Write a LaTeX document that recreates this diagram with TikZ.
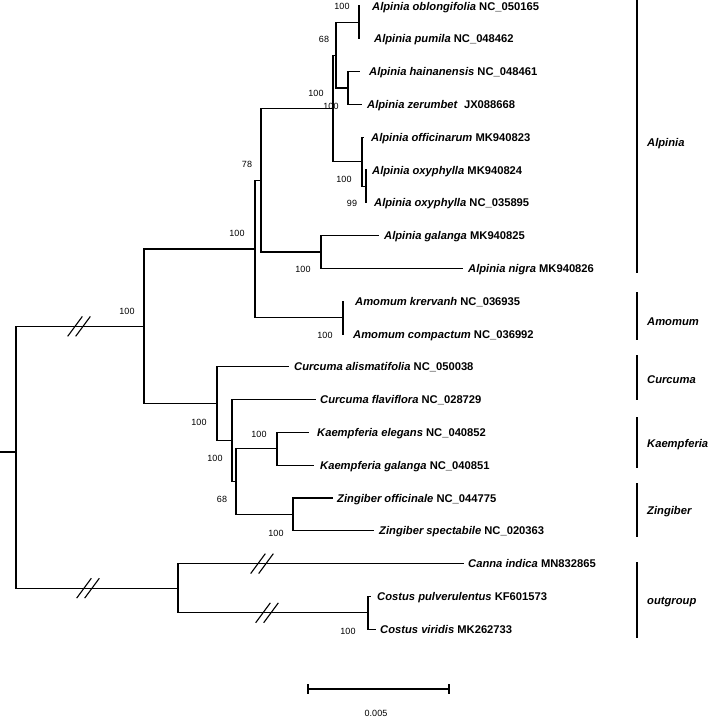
\documentclass[tikz,border=0pt]{standalone}
\usepackage{fontspec}
\setmainfont{Liberation Sans}
\begin{document}
\begin{tikzpicture}[x=1pt,y=-1pt,
  br/.style={line width=1.1pt, line cap=rect},
  tiplab/.style={anchor=base west, inner sep=0pt, font=\fontsize{11.2}{13}\selectfont\bfseries, yshift=-4pt},
  boot/.style={inner sep=0pt, font=\fontsize{9}{10}\selectfont},
  cladebar/.style={line width=1.3pt},
  cladelab/.style={anchor=base west, inner sep=0pt, font=\fontsize{11.2}{13}\selectfont\bfseries\itshape, yshift=-4pt},
  scalelab/.style={inner sep=0pt, font=\fontsize{9}{10}\selectfont}]
\useasboundingbox (0,0) rectangle (709,718);
\newcommand\spn[1]{\textit{#1}}
\newcommand\brkmark[2]{%
  \draw[br] ({#1-11},{#2+9.5}) -- ({#1+3},{#2-9.5});
  \draw[br] ({#1-3},{#2+9.5}) -- ({#1+11},{#2-9.5});}

% tips
\coordinate (t1) at (359,6);
\coordinate (t2) at (359,38.8);
\coordinate (t3) at (359,71.6);
\coordinate (t4) at (361,104.4);
\coordinate (t5) at (363,137.2);
\coordinate (t6) at (366,170);
\coordinate (t7) at (366,202.8);
\coordinate (t8) at (378,235.6);
\coordinate (t9) at (462,268.4);
\coordinate (t10) at (343,301.2);
\coordinate (t11) at (343,334);
\coordinate (t12) at (288,366.8);
\coordinate (t13) at (315,399.6);
\coordinate (t14) at (308,432.4);
\coordinate (t15) at (313,465.2);
\coordinate (t16) at (332,498);
\coordinate (t17) at (373,530.8);
\coordinate (t18) at (463,563.6);
\coordinate (t19) at (370,596.4);
\coordinate (t20) at (375,629.2);

% tip labels
\node[tiplab] (l1) at (372,6) {\spn{Alpinia oblongifolia} NC\_050165};
\node[tiplab] (l2) at (374,38.8) {\spn{Alpinia pumila} NC\_048462};
\node[tiplab] (l3) at (369,71.6) {\spn{Alpinia hainanensis} NC\_048461};
\node[tiplab] (l4) at (367,104.4) {\spn{Alpinia zerumbet}\ \ JX088668};
\node[tiplab] (l5) at (371,137.2) {\spn{Alpinia officinarum} MK940823};
\node[tiplab] (l6) at (372,170) {\spn{Alpinia oxyphylla} MK940824};
\node[tiplab] (l7) at (374,202.8) {\spn{Alpinia oxyphylla} NC\_035895};
\node[tiplab] (l8) at (384,235.6) {\spn{Alpinia galanga} MK940825};
\node[tiplab] (l9) at (468,268.4) {\spn{Alpinia nigra} MK940826};
\node[tiplab] (l10) at (355,301.2) {\spn{Amomum krervanh} NC\_036935};
\node[tiplab] (l11) at (353,334) {\spn{Amomum compactum} NC\_036992};
\node[tiplab] (l12) at (294,366.8) {\spn{Curcuma alismatifolia} NC\_050038};
\node[tiplab] (l13) at (320,399.6) {\spn{Curcuma flaviflora} NC\_028729};
\node[tiplab] (l14) at (317,432.4) {\spn{Kaempferia elegans} NC\_040852};
\node[tiplab] (l15) at (320,465.2) {\spn{Kaempferia galanga} NC\_040851};
\node[tiplab] (l16) at (337,498) {\spn{Zingiber officinale} NC\_044775};
\node[tiplab] (l17) at (379,530.8) {\spn{Zingiber spectabile} NC\_020363};
\node[tiplab] (l18) at (468,563.6) {\spn{Canna indica} MN832865};
\node[tiplab] (l19) at (377,596.4) {\spn{Costus pulverulentus} KF601573};
\node[tiplab] (l20) at (380,629.2) {\spn{Costus viridis} MK262733};

% internal nodes
\coordinate (nA1) at (359,22.4);
\coordinate (nA2) at (348,88);
\coordinate (nA3) at (336,55.2);
\coordinate (nA4) at (366,186.4);
\coordinate (nA5) at (362,161.8);
\coordinate (nA6) at (333,108.5);
\coordinate (nA7) at (321,252);
\coordinate (nA8) at (261,180.3);
\coordinate (nAm) at (343,317.6);
\coordinate (nZ1) at (255,249);
\coordinate (nK) at (277,448.8);
\coordinate (nZi) at (293,514.4);
\coordinate (nKZ) at (236,481.6);
\coordinate (nCKZ) at (232,440.6);
\coordinate (nCur) at (217,403.7);
\coordinate (nIng) at (144,326.4);
\coordinate (nCos) at (368,612.8);
\coordinate (nOut) at (178,588.2);
\coordinate (root) at (16,452);
\coordinate (rstub) at (0,452);

% branches
\draw[br] (nA1) |- (t1); \draw[br] (nA1) |- (t2);
\draw[br] (nA2) |- (t3); \draw[br] (nA2) |- (t4);
\draw[br] (nA3) |- (nA1); \draw[br] (nA3) |- (nA2);
\draw[br] (nA4) |- (t6); \draw[br] (nA4) |- (t7);
\draw[br] (nA5) |- (t5); \draw[br] (nA5) |- (nA4);
\draw[br] (nA6) |- (nA3); \draw[br] (nA6) |- (nA5);
\draw[br] (nA7) |- (t8); \draw[br] (nA7) |- (t9);
\draw[br] (nA8) |- (nA6); \draw[br] (nA8) |- (nA7);
\draw[br] (nAm) |- (t10); \draw[br] (nAm) |- (t11);
\draw[br] (nZ1) |- (nA8); \draw[br] (nZ1) |- (nAm);
\draw[br] (nK) |- (t14); \draw[br] (nK) |- (t15);
\draw[br] (nZi) |- (t16); \draw[br] (nZi) |- (t17);
\draw[br] (nKZ) |- (nK); \draw[br] (nKZ) |- (nZi);
\draw[br] (nCKZ) |- (t13); \draw[br] (nCKZ) |- (nKZ);
\draw[br] (nCur) |- (t12); \draw[br] (nCur) |- (nCKZ);
\draw[br] (nIng) |- (nZ1); \draw[br] (nIng) |- (nCur);
\draw[br] (nCos) |- (t19); \draw[br] (nCos) |- (t20);
\draw[br] (nOut) |- (t18); \draw[br] (nOut) |- (nCos);
\draw[br] (root) |- (nIng); \draw[br] (root) |- (nOut);
\draw[br] (rstub) -- (root);

% break marks
\brkmark{79}{326.4}
\brkmark{88}{588.2}
\brkmark{262}{563.6}
\brkmark{267}{612.8}

% bootstrap values
\node[boot] (b1) at (342,6) {100};
\node[boot] (b2) at (324,39) {68};
\node[boot] (b3) at (331,106) {100};
\node[boot] (b4) at (316,93) {100};
\node[boot] (b5) at (344,179) {100};
\node[boot] (b6) at (352,203) {99};
\node[boot] (b7) at (303,269) {100};
\node[boot] (b8) at (247,164) {78};
\node[boot] (b9) at (325,335) {100};
\node[boot] (b10) at (237,233) {100};
\node[boot] (b11) at (259,434) {100};
\node[boot] (b12) at (276,533) {100};
\node[boot] (b13) at (222,499) {68};
\node[boot] (b14) at (215,458) {100};
\node[boot] (b15) at (199,422) {100};
\node[boot] (b16) at (127,311) {100};
\node[boot] (b17) at (348,631) {100};

% clade bars
\coordinate (cA1) at (637,0);   \coordinate (cA2) at (637,273);
\coordinate (cB1) at (637,292); \coordinate (cB2) at (637,340);
\coordinate (cC1) at (637,355); \coordinate (cC2) at (637,400);
\coordinate (cD1) at (637,417); \coordinate (cD2) at (637,468);
\coordinate (cE1) at (637,483); \coordinate (cE2) at (637,537);
\coordinate (cF1) at (637,562); \coordinate (cF2) at (637,638);
\draw[cladebar] (cA1) -- (cA2);
\draw[cladebar] (cB1) -- (cB2);
\draw[cladebar] (cC1) -- (cC2);
\draw[cladebar] (cD1) -- (cD2);
\draw[cladebar] (cE1) -- (cE2);
\draw[cladebar] (cF1) -- (cF2);
\node[cladelab] (gA) at (647,142) {Alpinia};
\node[cladelab] (gB) at (647,321) {Amomum};
\node[cladelab] (gC) at (647,379) {Curcuma};
\node[cladelab] (gD) at (647,443) {Kaempferia};
\node[cladelab] (gE) at (647,510) {Zingiber};
\node[cladelab] (gF) at (647,600) {outgroup};

% scale bar
\coordinate (s1) at (308,689);
\coordinate (s2) at (449,689);
\draw[br] (s1) -- (s2);
\draw[br] ([yshift=4pt]s1) -- ([yshift=-4pt]s1);
\draw[br] ([yshift=4pt]s2) -- ([yshift=-4pt]s2);
\node[scalelab] (sl) at (376,713) {0.005};
\end{tikzpicture}
\end{document}
